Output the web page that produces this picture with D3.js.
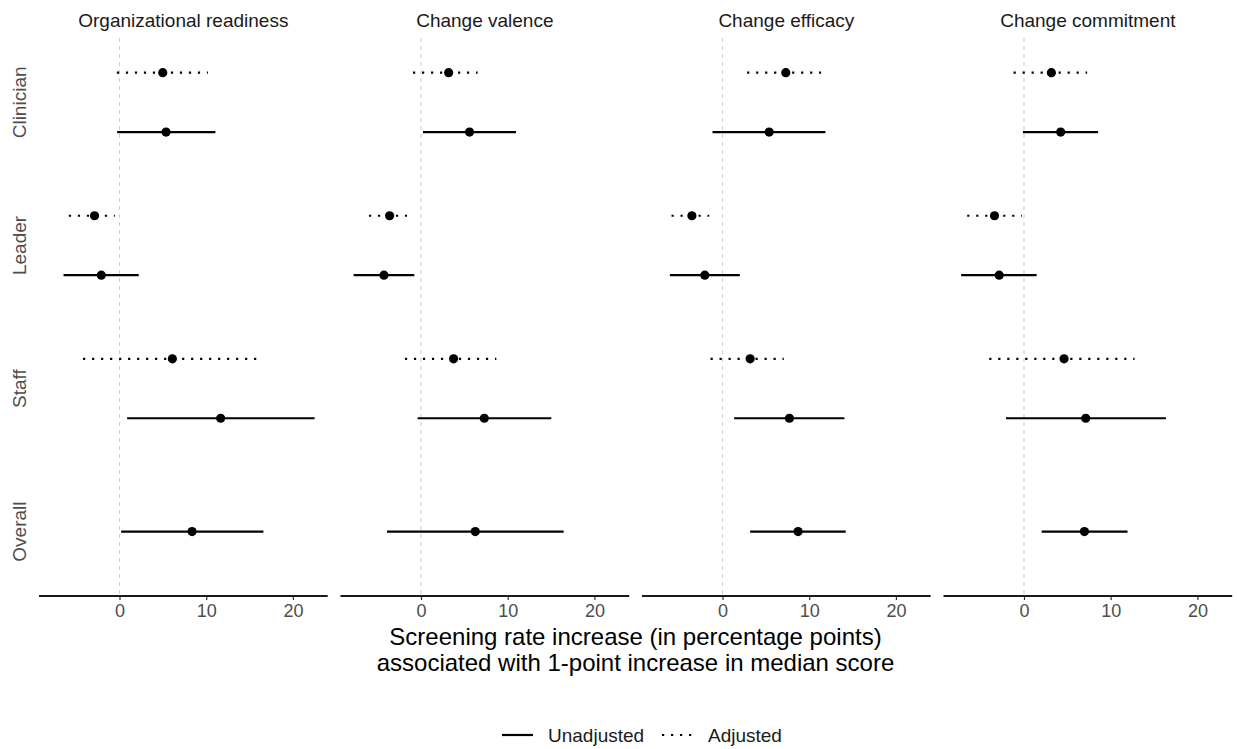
<!DOCTYPE html>
<html>
<head>
<meta charset="utf-8">
<script src="https://cdn.jsdelivr.net/npm/d3@7"></script>
<style>
  body { margin: 0; background: #fff; }
  text { font-family: "Liberation Sans", Arial, sans-serif; }
</style>
</head>
<body>
<div id="chart"></div>
<script>
// panels and groups
const measures = ["Organizational readiness", "Change valence", "Change efficacy", "Change commitment"];
const groups = ["Clinician", "Leader", "Staff", "Overall"];
const xTicks = [0, 10, 20];

// estimates: [estimate, lower, upper] per measure, per group
const unadjusted = {
  "Organizational readiness": [[5.37, -0.27, 11.06], [-2.1, -6.45, 2.22], [11.67, 0.88, 22.5], [8.37, 0.19, 16.6]],
  "Change valence":           [[5.6, 0.23, 10.96], [-4.27, -7.77, -0.77], [7.3, -0.39, 15.03], [6.26, -3.92, 16.45]],
  "Change efficacy":          [[5.38, -1.15, 11.87], [-2.04, -6.07, 2.0], [7.72, 1.34, 14.06], [8.72, 3.19, 14.21]],
  "Change commitment":        [[4.23, -0.12, 8.55], [-2.86, -7.25, 1.46], [7.12, -2.08, 16.37], [6.97, 2.04, 11.94]]
};
const adjusted = {
  "Organizational readiness": [[4.99, -0.3, 10.2], [-2.88, -5.84, -0.54], [6.1, -4.2, 16.5]],
  "Change valence":           [[3.19, -0.92, 6.53], [-3.62, -6.0, -1.61], [3.76, -1.85, 8.69]],
  "Change efficacy":          [[7.3, 2.84, 11.37], [-3.53, -5.88, -1.53], [3.19, -1.38, 7.07]],
  "Change commitment":        [[3.16, -1.2, 7.28], [-3.4, -6.55, -0.23], [4.62, -4.01, 12.75]]
};

const W = 1237, H = 749;
const svg = d3.select("#chart").append("svg")
  .attr("width", W).attr("height", H);

const panelLeft = 39, panelW = 288.7, panelGap = 12.8;
const panelTop = 38, panelBottom = 596;

// build rows
const rows = [];
measures.forEach(m => {
  groups.forEach((g, i) => {
    const u = unadjusted[m][i];
    const a = adjusted[m][i];
    if (a) rows.push({ measure: m, group: g, type: "Adjusted", est: a[0], lo: a[1], hi: a[2], dodge: -1 });
    rows.push({ measure: m, group: g, type: "Unadjusted", est: u[0], lo: u[1], hi: u[2], dodge: a ? 1 : 0 });
  });
});

const allVals = rows.flatMap(d => [d.lo, d.hi]);
const xmin = d3.min(allVals), xmax = d3.max(allVals);
const pad = (xmax - xmin) * 0.05;

const y = d3.scalePoint()
  .domain(groups)
  .range([panelTop, panelBottom])
  .padding(0.45);
const dodgeOff = y.step() * 0.2075;

const dashes = { "Unadjusted": null, "Adjusted": "2.2 6.8" };

measures.forEach((m, pi) => {
  const x0 = panelLeft + pi * (panelW + panelGap);
  const x = d3.scaleLinear()
    .domain([xmin - pad, xmax + pad])
    .range([x0, x0 + panelW]);

  const g = svg.append("g").attr("class", "panel");

  // zero reference line
  g.append("line")
    .attr("x1", x(0)).attr("x2", x(0))
    .attr("y1", panelTop).attr("y2", panelBottom)
    .attr("stroke", "#d0d0d0")
    .attr("stroke-width", 1.1)
    .attr("stroke-dasharray", "4 4");

  // strip title
  g.append("text")
    .attr("x", x0 + panelW / 2).attr("y", 27)
    .attr("text-anchor", "middle")
    .attr("font-size", 19)
    .attr("fill", "#1a1a1a")
    .text(m);

  // x axis
  const axis = g.append("g")
    .attr("transform", "translate(0," + panelBottom + ")")
    .call(d3.axisBottom(x).tickValues(xTicks).tickSize(4).tickPadding(4));
  axis.select(".domain").remove();
  axis.selectAll(".tick line").attr("stroke", "#333").attr("stroke-width", 1.2);
  axis.selectAll(".tick text")
    .attr("font-size", 18)
    .attr("fill", "#4d4d4d")
    .attr("font-family", "'Liberation Sans', Arial, sans-serif");
  g.append("line")
    .attr("x1", x0).attr("x2", x0 + panelW)
    .attr("y1", panelBottom).attr("y2", panelBottom)
    .attr("stroke", "#1a1a1a")
    .attr("stroke-width", 2.2);

  const data = rows.filter(d => d.measure === m);
  const yy = d => y(d.group) + d.dodge * dodgeOff;

  g.selectAll(".ci").data(data).join("line")
    .attr("class", "ci")
    .attr("x1", d => x(d.lo)).attr("x2", d => x(d.hi))
    .attr("y1", yy).attr("y2", yy)
    .attr("stroke", "#000")
    .attr("stroke-width", 2.2)
    .attr("stroke-dasharray", d => dashes[d.type]);

  g.selectAll(".pt").data(data).join("circle")
    .attr("class", "pt")
    .attr("cx", d => x(d.est)).attr("cy", yy)
    .attr("r", 4.6)
    .attr("fill", "#000");
});

// y labels (first panel only)
groups.forEach(gr => {
  svg.append("text")
    .attr("transform", "translate(26," + y(gr) + ") rotate(-90)")
    .attr("text-anchor", "middle")
    .attr("font-size", 19)
    .attr("fill", "#4d4d4d")
    .text(gr);
});

// x axis title
const xTitle = ["Screening rate increase (in percentage points)", "associated with 1-point increase in median score"];
svg.append("text")
  .attr("text-anchor", "middle")
  .attr("font-size", 24)
  .attr("fill", "#000")
  .selectAll("tspan").data(xTitle).join("tspan")
  .attr("x", 635.5)
  .attr("y", (d, i) => 645 + i * 26)
  .text(d => d);

// legend
const legendTypes = ["Unadjusted", "Adjusted"];
const legX = [502, 662];
const leg = svg.append("g");
legendTypes.forEach((t, i) => {
  leg.append("line")
    .attr("x1", legX[i]).attr("x2", legX[i] + 31)
    .attr("y1", 735).attr("y2", 735)
    .attr("stroke", "#000")
    .attr("stroke-width", 2.2)
    .attr("stroke-dasharray", dashes[t]);
  leg.append("text")
    .attr("x", legX[i] + 46).attr("y", 742)
    .attr("font-size", 19)
    .attr("fill", "#1a1a1a")
    .text(t);
});
</script>
</body>
</html>
